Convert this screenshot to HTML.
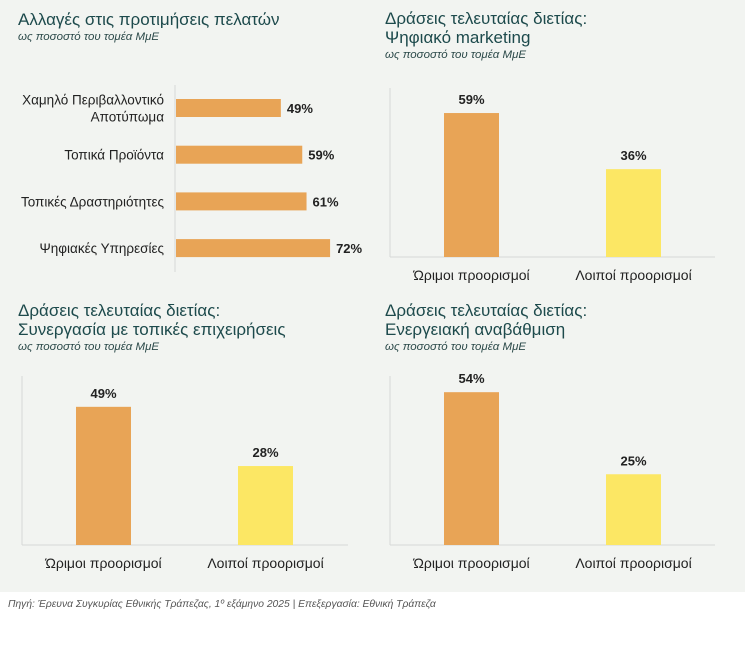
<!DOCTYPE html>
<html><head><meta charset="utf-8"><style>
body{margin:0;width:745px;height:669px;background:#fff;font-family:"Liberation Sans","DejaVu Sans",sans-serif;}
#bg{position:absolute;left:0;top:0;width:745px;height:592px;background:#f2f4f1;}
svg{position:absolute;left:0;top:0}
.t{font-size:17px;fill:#1d4a4c}
.s{font-size:11.5px;font-style:italic;fill:#2c4a4a}
.c{font-size:13.5px;fill:#222}
.cv{font-size:14px;fill:#222}
.v{font-size:13px;font-weight:bold;fill:#222}
</style></head><body>
<div id="bg"></div>
<svg id="svg" width="745" height="669">
<text class="t" x="18" y="25">Αλλαγές στις προτιμήσεις πελατών</text>
<text class="s" x="18" y="40">ως ποσοστό του τομέα ΜμΕ</text>
<text class="t" x="385" y="24">Δράσεις τελευταίας διετίας:</text>
<text class="t" x="385" y="43">Ψηφιακό marketing</text>
<text class="s" x="385" y="58">ως ποσοστό του τομέα ΜμΕ</text>
<text class="t" x="18" y="316">Δράσεις τελευταίας διετίας:</text>
<text class="t" x="18" y="335">Συνεργασία με τοπικές επιχειρήσεις</text>
<text class="s" x="18" y="350">ως ποσοστό του τομέα ΜμΕ</text>
<text class="t" x="385" y="316">Δράσεις τελευταίας διετίας:</text>
<text class="t" x="385" y="335">Ενεργειακή αναβάθμιση</text>
<text class="s" x="385" y="350">ως ποσοστό του τομέα ΜμΕ</text>
<text x="8" y="607" style="font-size:10.3px;font-style:italic;fill:#555">Πηγή: Έρευνα Συγκυρίας Εθνικής Τράπεζας, 1º εξάμηνο 2025 | Επεξεργασία: Εθνική Τράπεζα</text>
</svg>
<script>
const hCats=[["Χαμηλό Περιβαλλοντικό","Αποτύπωμα"],["Τοπικά Προϊόντα"],["Τοπικές Δραστηριότητες"],["Ψηφιακές Υπηρεσίες"]];
const hVals=[49,59,61,72];
const vCats=["Ώριμοι προορισμοί","Λοιποί προορισμοί"];
const marketingVals=[59,36];
const cooperationVals=[49,28];
const energyVals=[54,25];
const colors=["#e8a456","#fce764"];
const svg=document.getElementById('svg');
const NS="http://www.w3.org/2000/svg";
function mk(tag,attrs,text){const e=document.createElementNS(NS,tag);for(const k in attrs)e.setAttribute(k,attrs[k]);if(text!==undefined)e.textContent=text;svg.appendChild(e);return e;}
const x0=176,pxPer=2.14;const hx=v=>x0+v*pxPer;const hy=i=>108+i*46.7;
let ax=mk('line',{x1:175,y1:85,x2:175,y2:272,stroke:'#d6d8d6','stroke-width':1});


hVals.forEach((v,i)=>{
 const r=mk('rect',{x:x0,y:hy(i)-9,width:hx(v)-x0,height:18,fill:colors[0]});
 
 
 const t=mk('text',{x:hx(v)+6,y:hy(i)+5,class:'v'},v+'%');
 
 
 const lines=hCats[i];
 lines.forEach((l,j)=>{
  const c=mk('text',{x:164,y:hy(i)+5+(j-(lines.length-1)/2)*17,class:'c','text-anchor':'end'},l);
  
  
 });
});
function vChart(id,vals,axX,top,base,right,pxPer,barXs){
 const a=mk('line',{x1:axX,y1:top,x2:axX,y2:base,stroke:'#d6d8d6'});
 
 
 const b=mk('line',{x1:axX,y1:base,x2:right,y2:base,stroke:'#d6d8d6'});
 
 
 const vy=v=>base-v*pxPer;
 vals.forEach((v,i)=>{
  const r=mk('rect',{x:barXs[i],y:vy(v),width:55,height:base-vy(v),fill:colors[i]});
  
  
  const t=mk('text',{x:barXs[i]+27.5,y:vy(v)-9,class:'v','text-anchor':'middle'},v+'%');
  
  
  const c=mk('text',{x:barXs[i]+27.5,y:base+23,class:'cv','text-anchor':'middle'},vCats[i]);
  
  
 });
}
vChart('chart2',marketingVals,390,88,257,715,2.44,[444,606]);
vChart('chart3',cooperationVals,22,376,545,348,2.82,[76,238]);
vChart('chart4',energyVals,390,376,545,715,2.83,[444,606]);
</script>
</body></html>
